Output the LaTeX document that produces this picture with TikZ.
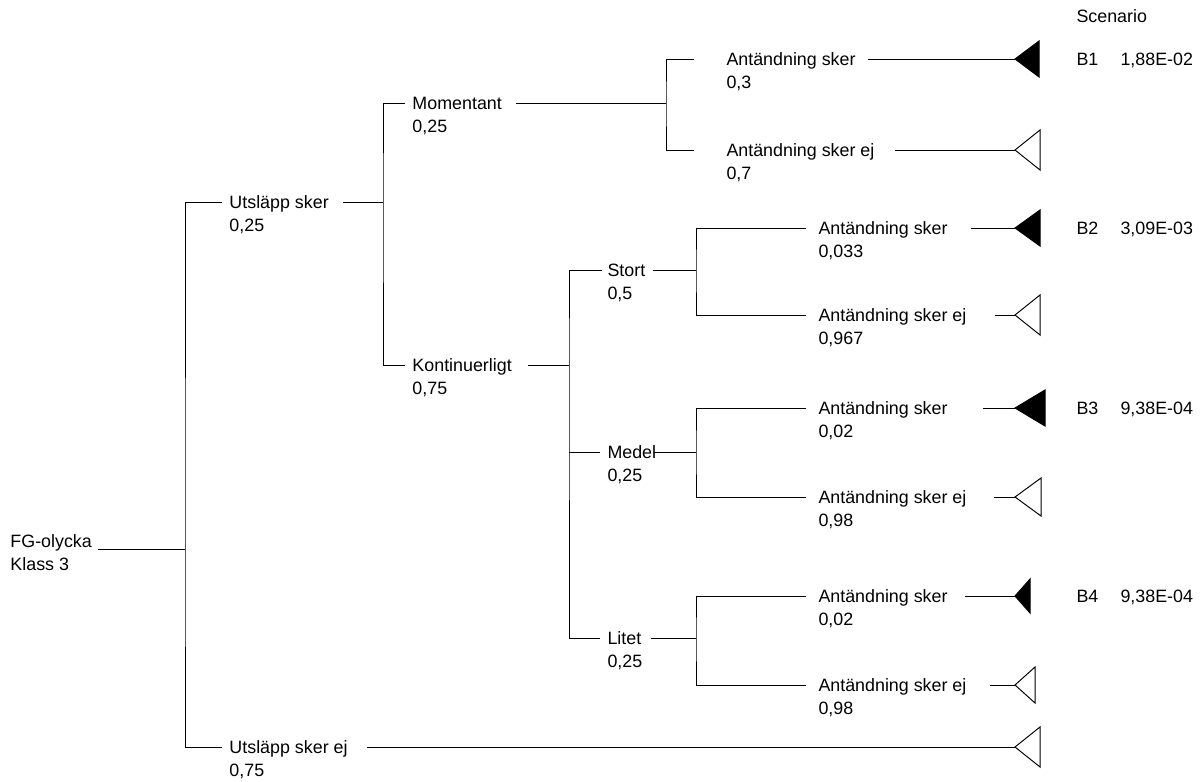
\documentclass[tikz,border=0pt]{standalone}
\usepackage{fontspec}
\setmainfont{Liberation Sans}
\begin{document}
\begin{tikzpicture}[x=0.025cm, y=-0.025cm, line width=0.7pt,
  lab/.style={anchor=west, inner sep=0pt, text height=0.32cm, text depth=0pt,
    font=\fontsize{12.7}{15}\selectfont},
  prob/.style={anchor=base west, inner sep=0pt, font=\fontsize{12.7}{15}\selectfont}]
\useasboundingbox (0,0) rectangle (1203,782);

% events
\node[lab] (fg) at (10,541) {FG-olycka};
\node[prob] (fg-p) at ([yshift=-0.57cm]fg.base west) {Klass 3};
\foreach \nm/\x/\y/\txt/\p in {
	us/229/202/{Utsläpp sker}/{0,25},
	usej/229/747/{Utsläpp sker ej}/{0,75},
	mom/412/103/{Momentant}/{0,25},
	kont/412/365/{Kontinuerligt}/{0,75},
	stort/607/270/{Stort}/{0,5},
	medel/607/452/{Medel}/{0,25},
	litet/607/638/{Litet}/{0,25},
	a1/726/59/{Antändning sker}/{0,3},
	a1e/726/150/{Antändning sker ej}/{0,7},
	a2/818/228/{Antändning sker}/{0,033},
	a2e/818/315/{Antändning sker ej}/{0,967},
	a3/818/408/{Antändning sker}/{0,02},
	a3e/818/497/{Antändning sker ej}/{0,98},
	a4/818/596/{Antändning sker}/{0,02},
	a4e/818/685/{Antändning sker ej}/{0,98}}
{
	\node[lab] (\nm) at (\x,\y) {\txt};
	\node[prob] (\nm-p) at ([yshift=-0.57cm]\nm.base west) {\p};
}

% junctions
\coordinate (j0) at (185,549);
\coordinate (j1) at (383,202);
\coordinate (j2) at (666,103);
\coordinate (j3) at (569,365);
\coordinate (j4) at (696,270);
\coordinate (j5) at (696,452);
\coordinate (j6) at (696,638);

\draw[shorten <=0.15cm] (fg.east |- j0) -- (j0);
\draw[shorten <=0.175cm, shorten >=0.175cm] (us.west) -| (j0) |- (usej.west);
\draw[shorten <=0.35cm] (us.east) -- (j1);
\draw[shorten <=0.175cm, shorten >=0.175cm] (mom.west) -| (j1) |- (kont.west);
\draw[shorten <=0.35cm] (mom.east) -- (j2);
\draw[shorten <=0.8cm, shorten >=0.8cm] (a1.west) -| (j2) |- (a1e.west);
\draw[shorten <=0.4cm] (kont.east) -- (j3);
\draw[shorten <=0.125cm, shorten >=0.175cm] (stort.west) -| (j3) |- (litet.west);
\draw[shorten >=0.175cm] (j3 |- medel.west) -- (medel.west);
\draw[shorten <=0.175cm] (stort.east) -- (j4);
\draw[shorten <=-0.075cm] (medel.east) -- (j5);
\draw[shorten <=0.225cm] (litet.east) -- (j6);
\draw[shorten <=0.3cm, shorten >=0.3cm] (a2.west) -| (j4) |- (a2e.west);
\draw[shorten <=0.3cm, shorten >=0.3cm] (a3.west) -| (j5) |- (a3e.west);
\draw[shorten <=0.3cm, shorten >=0.3cm] (a4.west) -| (j6) |- (a4e.west);

% end triangles
\foreach \nm/\y/\w/\h/\c/\g in {
	a1/59/24/18/black/0.3cm,
	a1e/150/25/20/white/0.5cm,
	a2/228/25/18/black/0.575cm,
	a2e/315/25/20/white/0.7cm,
	a3/408/30/18/black/0.875cm,
	a3e/497/26/19/white/0.675cm,
	a4/596/15/17/black/0.425cm,
	a4e/685/20/18/white/0.575cm,
	usej/747/25/20/white/0.475cm}
{
	\coordinate (t-\nm) at (1015,\y);
	\draw[fill=\c] (t-\nm) -- ++(\w,-\h) -- ++(0,2*\h) -- cycle;
	\draw[shorten <=\g] (\nm.east) -- (t-\nm);
}

% scenarios
\node[lab] (sc) at (1076,16) {Scenario};
\foreach \s/\y/\v in {B1/59/{1,88E-02}, B2/228/{3,09E-03}, B3/408/{9,38E-04}, B4/596/{9,38E-04}}
{
	\node[lab] (\s) at (1076,\y) {\s};
	\node[lab] (\s-v) at (1120,\y) {\v};
}

\end{tikzpicture}
\end{document}
